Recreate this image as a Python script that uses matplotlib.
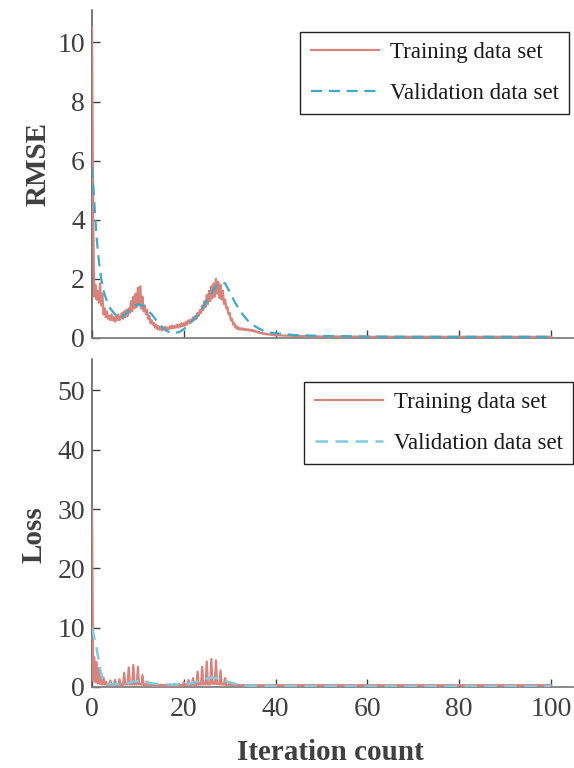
import numpy as np
import matplotlib
matplotlib.use("Agg")
import matplotlib.pyplot as plt

plt.rcParams['font.family'] = ['Liberation Serif', 'DejaVu Serif']

# ---------------- data ----------------
legend_labels = ["Training data set", "Validation data set"]
xticks = [0, 20, 40, 60, 80, 100]
rmse_yticks = [0, 2, 4, 6, 8, 10]
loss_yticks = [0, 10, 20, 30, 40, 50]

# training RMSE, dense part sampled every 0.25 iteration (0 .. 40)
train_rmse_dense = [
    10.5, 4.0, 1.4, 1.8, 1.3, 1.6, 1.2, 1.85,
    1.1, 1.5, 0.8, 1.0, 0.7, 0.9, 0.65, 0.75,
    0.6, 0.8, 0.6, 0.7, 0.55, 0.75, 0.6, 0.8,
    0.6, 0.7, 0.85, 0.65, 0.9, 0.7, 0.95, 0.75,
    1.0, 0.85, 1.25, 0.9, 1.4, 1.0, 1.5, 1.05,
    1.7, 1.1, 1.75, 1.0, 1.4, 0.9, 1.1, 0.8,
    0.95, 0.65, 0.75, 0.5, 0.6, 0.45, 0.5, 0.35,
    0.45, 0.3, 0.4, 0.28, 0.35, 0.25, 0.35, 0.3,
    0.38, 0.28, 0.35, 0.3, 0.4, 0.32, 0.42, 0.33,
    0.4, 0.35, 0.45, 0.35, 0.45, 0.38, 0.5, 0.4,
    0.5, 0.42, 0.55, 0.45, 0.6, 0.5, 0.62, 0.55,
    0.7, 0.6, 0.75, 0.65, 0.85, 0.75, 0.95, 0.85,
    1.1, 0.95, 1.25, 1.05, 1.45, 1.15, 1.6, 1.25,
    1.75, 1.35, 1.85, 1.4, 2.0, 1.5, 1.9, 1.35,
    1.8, 1.3, 1.6, 1.15, 1.3, 1.0, 1.05, 0.8,
    0.85, 0.6, 0.65, 0.45, 0.5, 0.35, 0.4, 0.3,
    0.35, 0.28, 0.33, 0.28, 0.32, 0.27, 0.3, 0.26,
    0.3, 0.25, 0.28, 0.24, 0.27, 0.22, 0.25, 0.2,
    0.22, 0.18, 0.2, 0.16, 0.18, 0.14, 0.16, 0.13,
    0.14, 0.12, 0.13, 0.11, 0.12, 0.1, 0.11, 0.1,
    0.1,
]
train_rmse_tail_iter = [41, 42, 43, 44, 45, 47, 50, 55, 60, 70, 80, 90, 100]
train_rmse_tail = [0.09, 0.08, 0.08, 0.07, 0.07, 0.06, 0.05, 0.05, 0.04, 0.04, 0.04, 0.04, 0.04]

val_rmse_iter = [0, 0.5, 1, 1.5, 2, 2.5, 3, 3.5, 4, 5, 6, 6.5, 7, 8, 9, 10, 11, 12,
                 13, 14, 15, 16, 17, 18, 19, 20, 21, 22, 23, 24, 25, 26, 27, 28,
                 29, 30, 31, 32, 33, 34, 35, 36, 37, 38, 39, 40, 42, 44, 46, 50,
                 55, 60, 70, 80, 90, 100]
val_rmse = [5.8, 4.6, 3.4, 2.6, 2.0, 1.6, 1.35, 1.15, 1.0, 0.8, 0.68, 0.66, 0.78,
            0.92, 1.08, 1.14, 1.1, 0.95, 0.8, 0.6, 0.42, 0.26, 0.19, 0.17, 0.2,
            0.3, 0.45, 0.6, 0.78, 0.98, 1.25, 1.52, 1.75, 1.87, 1.85, 1.56, 1.25,
            0.98, 0.76, 0.58, 0.45, 0.35, 0.27, 0.22, 0.18, 0.16, 0.13, 0.1, 0.09,
            0.07, 0.06, 0.05, 0.04, 0.04, 0.04, 0.04]

# training loss, dense part sampled every 0.25 iteration (0 .. 35)
train_loss_dense = [
    30.0, 1.0, 5.0, 0.8,
    4.2, 0.6, 3.2, 0.5,
    2.4, 0.4, 1.6, 0.4,
    0.9, 0.3, 0.5, 0.3,
    1.1, 0.3, 0.4, 0.3,
    1.2, 0.3, 0.4, 0.3,
    1.3, 0.3, 0.4, 0.3,
    2.4, 0.4, 0.5, 0.4,
    3.3, 0.4, 0.6, 0.4,
    3.7, 0.4, 0.6, 0.4,
    3.4, 0.4, 0.5, 0.4,
    2.0, 0.3, 0.4, 0.3,
    0.9, 0.3, 0.3, 0.3,
    0.5, 0.2, 0.3, 0.2,
    0.4, 0.2, 0.3, 0.2,
    0.4, 0.2, 0.3, 0.2,
    0.4, 0.2, 0.3, 0.2,
    0.4, 0.2, 0.3, 0.2,
    0.5, 0.2, 0.3, 0.2,
    0.5, 0.2, 0.3, 0.2,
    0.8, 0.3, 0.3, 0.3,
    1.2, 0.3, 0.4, 0.3,
    1.5, 0.3, 0.4, 0.3,
    2.6, 0.4, 0.5, 0.4,
    3.4, 0.4, 0.6, 0.4,
    4.3, 0.4, 0.6, 0.4,
    4.7, 0.5, 0.7, 0.5,
    4.5, 0.5, 0.6, 0.4,
    2.8, 0.4, 0.5, 0.4,
    1.5, 0.3, 0.4, 0.3,
    0.7, 0.3, 0.3, 0.3,
    0.4, 0.3, 0.3, 0.3,
    0.35, 0.3, 0.3, 0.3,
    0.35, 0.3, 0.3, 0.3,
    0.35, 0.3, 0.3, 0.3,
    0.3,
]
train_loss_tail_iter = [40, 50, 60, 70, 80, 90, 100]
train_loss_tail = [0.3, 0.3, 0.3, 0.3, 0.3, 0.3, 0.3]

val_loss_iter = [0, 1, 2, 2.5, 3, 5, 7, 9, 10, 12, 14, 17, 20, 22, 24, 26, 27,
                 28, 30, 32, 34, 40, 60, 80, 100]
val_loss = [10.0, 6.5, 2.0, 0.8, 0.5, 0.45, 0.5, 0.9, 1.0, 0.7, 0.5, 0.4, 0.4,
            0.7, 1.2, 1.6, 1.5, 1.2, 0.8, 0.35, 0.2, 0.15, 0.12, 0.12, 0.12]

# ---------------- styling ----------------
train_color = '#d9837d'
val_color_top = '#3ea9c8'
val_color_bot = '#7fcbe0'
text_color = '#404040'
tick_fs = 20
label_fs = 21
legend_fs = 16.5

fig = plt.figure(figsize=(5.74, 7.68), dpi=100)
ax1 = fig.add_axes([0.1603, 0.5599, 0.8380, 0.4271])
ax2 = fig.add_axes([0.1603, 0.1055, 0.8380, 0.4271])

tr_rmse_x = np.concatenate([np.arange(len(train_rmse_dense)) * 0.25, train_rmse_tail_iter])
tr_rmse_y = np.concatenate([train_rmse_dense, train_rmse_tail])
tr_loss_x = np.concatenate([np.arange(len(train_loss_dense)) * 0.25, train_loss_tail_iter])
tr_loss_y = np.concatenate([train_loss_dense, train_loss_tail])

ax1.plot(tr_rmse_x, tr_rmse_y, color=train_color, lw=1.6, label=legend_labels[0], zorder=3)
ax1.plot(val_rmse_iter, val_rmse, color=val_color_top, lw=1.6, dashes=(5, 3),
         label=legend_labels[1], zorder=4)
ax2.plot(tr_loss_x, tr_loss_y, color=train_color, lw=1.6, label=legend_labels[0], zorder=3)
ax2.plot(val_loss_iter, val_loss, color=val_color_bot, lw=1.8, dashes=(5, 3),
         label=legend_labels[1], zorder=4)

for ax, yt, ylim in [(ax1, rmse_yticks, 11.1), (ax2, loss_yticks, 55.3)]:
    ax.set_xlim(0, 104.8)
    ax.set_ylim(0, ylim)
    ax.set_xticks(xticks)
    ax.set_yticks(yt)
    ax.spines['top'].set_visible(False)
    ax.spines['right'].set_visible(False)
    ax.spines['left'].set_color('#555555')
    ax.spines['bottom'].set_color('#808080')
    ax.spines['left'].set_linewidth(1.1)
    ax.spines['bottom'].set_linewidth(1.3)
    ax.tick_params(direction='in', length=5.5, width=1.0, color='#404040',
                   labelsize=tick_fs, labelcolor=text_color)
    ax.tick_params(axis='y', pad=5)
    ax.tick_params(axis='x', pad=7)

ax1.tick_params(axis='x', labelbottom=False)

ax1.set_ylabel('RMSE', fontsize=label_fs, fontweight='bold', color=text_color)
ax1.yaxis.set_label_coords(-0.085, 0.53)
ax2.set_ylabel('Loss', fontsize=label_fs, fontweight='bold', color=text_color)
ax2.yaxis.set_label_coords(-0.092, 0.463)
fig.text(330 / 574, 1 - 752 / 768, 'Iteration count', fontsize=label_fs,
         fontweight='bold', color=text_color, ha='center', va='center')

for ax, anchor in [(ax1, (569 / 574, 1 - 32 / 768)), (ax2, (573 / 574, 1 - 382 / 768))]:
    leg = ax.legend(loc='upper right', bbox_to_anchor=anchor,
                    bbox_transform=fig.transFigure, fontsize=legend_fs,
                    frameon=True, fancybox=False, framealpha=1, edgecolor='#222222',
                    handlelength=3.0, handletextpad=0.45, labelspacing=0.85,
                    borderpad=0.45, borderaxespad=0)
    leg.get_frame().set_linewidth(1.0)
    for t in leg.get_texts():
        t.set_color('#1a1a1a')

fig.savefig('out.png', dpi=100)
